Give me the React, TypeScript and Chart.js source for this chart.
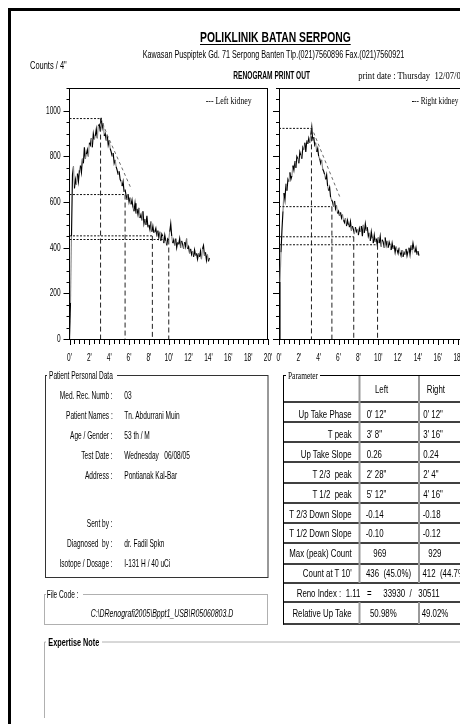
import React, { useEffect, useRef } from 'react';
import { Chart, registerables } from 'chart.js';

Chart.register(...registerables);

// ---------- DATA ----------
const SAMPLE_MIN = 0.1; // sampling step of the count series, minutes

const leftCounts = [
  0, 160, 450, 720, 756, 660, 700, 675, 725, 690,
  740, 760, 730, 790, 770, 840, 790, 810, 830, 800,
  860, 850, 880, 840, 900, 875, 890, 920, 880, 935,
  940, 910, 969, 925, 945, 890, 900, 870, 895, 850,
  870, 835, 820, 800, 815, 770, 785, 755, 740, 720,
  735, 700, 690, 670, 690, 645, 655, 630, 610, 635,
  600, 620, 590, 610, 575, 560, 595, 550, 570, 545,
  575, 530, 545, 520, 560, 505, 525, 500, 540, 490,
  500, 480, 515, 470, 495, 465, 470, 485, 450, 475,
  445, 470, 430, 460, 450, 420, 455, 430, 410, 440,
  436, 470, 505, 450, 420, 435, 410, 440, 400, 425,
  415, 440, 400, 430, 415, 395, 425, 405, 440, 395,
  405, 375, 395, 370, 385, 360, 390, 365, 375, 350,
  375, 360, 385, 350, 395, 410, 365, 380, 345, 370,
  340, 355,
];

const rightCounts = [
  0, 250, 380, 480, 560, 640, 610, 680, 650, 700,
  690, 730, 700, 715, 760, 740, 780, 750, 800, 790,
  770, 820, 805, 790, 840, 830, 860, 820, 870, 855,
  880, 860, 895, 929, 870, 885, 850, 860, 820, 835,
  800, 790, 770, 785, 745, 735, 720, 700, 720, 670,
  650, 665, 620, 610, 600, 580, 605, 570, 585, 550,
  560, 540, 555, 530, 545, 520, 510, 530, 495, 520,
  500, 490, 515, 475, 495, 480, 460, 490, 470, 480,
  455, 485, 470, 495, 450, 500, 465, 505, 475, 490,
  450, 465, 430, 470, 440, 420, 455, 425, 440, 412,
  445, 420, 450, 405, 435, 425, 400, 445, 410, 430,
  400, 425, 410, 390, 420, 395, 410, 380, 405, 390,
  375, 400, 380, 365, 390, 360, 380, 370, 395, 365,
  385, 400, 370, 410, 390, 420, 395, 380, 400, 370,
  385, 365,
];

// fitted down-slope (dashed grey)
const leftFitTime = [3.13, 3.8, 6.25];
const leftFitCounts = [969, 895, 655];
const rightFitTime = [3.27, 4.0, 6.2];
const rightFitCounts = [929, 850, 615];

// marker lines: T peak, T 2/3, T 1/2, T 10'
const leftMarkTime = [3.13, 5.6, 8.35, 10];
const leftMarkCounts = [966, 633, 452, 436];
const rightMarkTime = [3.27, 5.33, 7.53, 9.93];
const rightMarkCounts = [923, 580, 448, 413];

const X_MAX = 20;
const Y_MAX = 1100;
const X_LABEL_EVERY = 2;
const Y_LABEL_EVERY = 200;

const patientLabels = ['Med. Rec. Numb :', 'Patient Names :', 'Age / Gender :', 'Test Date :', 'Address :', 'Sent by :', 'Diagnosed  by :', 'Isotope / Dosage :'];
const patientValues = ['03', 'Tn. Abdurrani Muin', '53 th / M', 'Wednesday   06/08/05', 'Pontianak Kal-Bar', '', 'dr. Fadil Spkn', 'I-131 H / 40 uCi'];

const paramLabels = ['Up Take Phase', 'T peak', 'Up Take Slope', 'T 2/3  peak', 'T 1/2  peak', 'T 2/3 Down Slope', 'T 1/2 Down Slope', 'Max (peak) Count', "Count at T 10'"];
const paramLeft = ["0' 12\"", "3' 8\"", '0.26', "2' 28\"", "5' 12\"", '-0.14', '-0.10', '969', '436  (45.0%)'];
const paramRight = ["0' 12\"", "3' 16\"", '0.24', "2' 4\"", "4' 16\"", '-0.18', '-0.12', '929', '412  (44.7%)'];

// ---------- LAYOUT ----------
const SANS = "'Liberation Sans',Arial,'DejaVu Sans',sans-serif";
const SERIF = "'Liberation Serif','Times New Roman',serif";

const patientCY = [395, 415, 435, 455, 475, 523, 543, 563];
const paramCY = [414.5, 434.5, 454, 474.5, 494.5, 514.5, 533.5, 553.5, 573.5];
const paramLeftX0 = [366.7, 366.7, 366.7, 366.7, 366.7, 365.7, 365.7, 373.3, 366];
const paramRightX0 = [423.3, 423.3, 423.3, 423.3, 423.3, 422.7, 422.7, 428.3, 422.5];
const tableRowLines = [402, 422, 442, 462, 483, 503, 523, 543, 564, 583, 602];

let measureCtx: CanvasRenderingContext2D | null = null;
function textWidth(t: string, size: number, family: string, bold = false) {
  if (!measureCtx) measureCtx = document.createElement('canvas').getContext('2d');
  if (!measureCtx) return t.length * size * 0.5;
  measureCtx.font = `${bold ? 'bold ' : ''}${size}px ${family}`;
  return measureCtx.measureText(t).width;
}

type TP = { x: number; x2: number; cy: number; s?: number; b?: boolean; i?: boolean; f?: string; t: string };
// single text stretched to a measured span
const Txt = ({ x, x2, cy, s = 10.5, b, i, f = SANS, t }: TP) => (
  <text
    x={x}
    y={cy + s * 0.36}
    fontSize={s}
    fontWeight={b ? 'bold' : 'normal'}
    fontStyle={i ? 'italic' : 'normal'}
    fontFamily={f}
    textLength={x2 - x}
    lengthAdjust="spacingAndGlyphs"
    fill="#000"
    style={{ whiteSpace: 'pre' }}
  >
    {t}
  </text>
);

type SP = { x: number; cy: number; s: number; k: number; anchor?: 'start' | 'end'; b?: boolean; i?: boolean; f?: string; t: string };
// text with a uniform horizontal condensation factor k
const STxt = ({ x, cy, s, k, anchor = 'start', b, i, f = SANS, t }: SP) => (
  <text
    transform={`translate(${x} ${cy + s * 0.36}) scale(${k} 1)`}
    fontSize={s}
    fontWeight={b ? 'bold' : 'normal'}
    fontStyle={i ? 'italic' : 'normal'}
    fontFamily={f}
    textAnchor={anchor}
    fill="#000"
    style={{ whiteSpace: 'pre' }}
  >
    {t}
  </text>
);

const TICK_FONT = "'Liberation Sans',Arial,sans-serif";
const TICK_K = 0.62;

const framePlugin = {
  id: 'renoFrame',
  afterDraw(chart: any) {
    const { ctx, chartArea: a, scales } = chart;
    const xs = scales.x;
    const ys = scales.y;
    const showY = chart.options.plugins.renoFrame?.yLabels;
    ctx.save();
    ctx.strokeStyle = '#000';
    ctx.lineWidth = 1;
    ctx.beginPath();
    xs.ticks.forEach((t: any) => {
      const px = Math.round(xs.getPixelForValue(t.value)) + 0.5;
      ctx.moveTo(px, a.bottom);
      ctx.lineTo(px, a.bottom + (t.value % X_LABEL_EVERY === 0 ? 6 : 5));
    });
    ys.ticks.forEach((t: any) => {
      const py = Math.round(ys.getPixelForValue(t.value)) + 0.5;
      const len = t.value % Y_LABEL_EVERY === 0 ? 6 : 3;
      ctx.moveTo(a.left - len, py);
      ctx.lineTo(a.left, py);
    });
    ctx.moveTo(a.left, Math.round(a.top) + 0.5);
    ctx.lineTo(a.right, Math.round(a.top) + 0.5);
    ctx.moveTo(Math.round(a.right) - 0.5, a.top);
    ctx.lineTo(Math.round(a.right) - 0.5, a.bottom);
    ctx.stroke();

    // tick labels (condensed, like the printout)
    ctx.fillStyle = '#000';
    ctx.font = `10.5px ${TICK_FONT}`;
    ctx.textBaseline = 'middle';
    xs.ticks.forEach((t: any) => {
      if (t.value % X_LABEL_EVERY !== 0) return;
      ctx.save();
      ctx.translate(xs.getPixelForValue(t.value), a.bottom + 19);
      ctx.scale(TICK_K, 1);
      ctx.textAlign = 'center';
      ctx.fillText(`${t.value}'`, 0, 0);
      ctx.restore();
    });
    if (showY) {
      ys.ticks.forEach((t: any) => {
        if (t.value % Y_LABEL_EVERY !== 0) return;
        ctx.save();
        ctx.translate(a.left - 9, ys.getPixelForValue(t.value));
        ctx.scale(TICK_K, 1);
        ctx.textAlign = 'right';
        ctx.fillText(String(t.value), 0, 0);
        ctx.restore();
      });
    }
    ctx.restore();
  },
};

type RCProps = {
  counts: number[];
  fitT: number[];
  fitV: number[];
  markT: number[];
  markV: number[];
  yLabels: boolean;
  left: number;
  width: number;
  yWidth: number;
  padLeft: number;
  padRight: number;
};

function RenoChart({ counts, fitT, fitV, markT, markV, yLabels, left, width, yWidth, padLeft, padRight }: RCProps) {
  const ref = useRef<HTMLCanvasElement>(null);
  useEffect(() => {
    if (!ref.current) return;
    const hLines = markT.map((t, i) => ({
      data: [
        { x: 0, y: markV[i] },
        { x: t, y: markV[i] },
      ],
      borderColor: '#111',
      borderWidth: 1,
      borderDash: [2, 1.5],
      pointRadius: 0,
      fill: false,
    }));
    const vLines = markT.map((t, i) => ({
      data: [
        { x: t, y: markV[i] },
        { x: t, y: 0 },
      ],
      borderColor: '#222',
      borderWidth: 1,
      borderDash: [5, 3],
      pointRadius: 0,
      fill: false,
    }));
    const chart = new Chart(ref.current, {
      type: 'line',
      data: {
        datasets: [
          ...hLines,
          ...vLines,
          {
            data: fitT.map((t, i) => ({ x: t, y: fitV[i] })),
            borderColor: '#6a6a6a',
            borderDash: [3, 3],
            borderWidth: 1,
            pointRadius: 0,
            fill: false,
          },
          {
            data: counts.map((v, i) => ({ x: i * SAMPLE_MIN, y: v })),
            borderColor: '#000',
            borderWidth: 1.15,
            pointRadius: 0,
            fill: false,
            segment: { borderColor: (c: any) => (c.p0DataIndex % 3 === 1 ? '#8c8c8c' : '#000') },
          },
        ] as any,
      },
      options: {
        responsive: false,
        animation: false,
        events: [],
        layout: { padding: { left: padLeft, right: padRight, top: 8, bottom: 6 } },
        plugins: { legend: { display: false }, tooltip: { enabled: false }, renoFrame: { yLabels } },
        scales: {
          x: {
            type: 'linear',
            min: 0,
            max: X_MAX,
            grid: { display: false, drawTicks: false },
            border: { display: true, color: '#000', width: 1 },
            ticks: { stepSize: 0.5, autoSkip: false, display: false },
            afterFit: (s: any) => {
              s.height = 25;
              s.paddingLeft = 0;
              s.paddingRight = 0;
            },
          },
          y: {
            type: 'linear',
            min: 0,
            max: Y_MAX,
            grid: { display: false, drawTicks: false },
            border: { display: true, color: '#000', width: 1 },
            ticks: { stepSize: 50, autoSkip: false, display: false },
            afterFit: (s: any) => {
              s.width = yWidth;
              s.paddingTop = 0;
              s.paddingBottom = 0;
            },
          },
        },
      } as any,
      plugins: [framePlugin],
    });
    return () => chart.destroy();
  }, []);
  return (
    <canvas
      ref={ref}
      width={width}
      height={290}
      style={{ position: 'absolute', left, top: 80, width, height: 290 }}
    />
  );
}

export default function App() {
  const kT = 53.4 / textWidth('Up Take Phase', 11, SANS);
  const kP = 46.7 / textWidth('Patient Names :', 10.5, SANS);
  return (
    <div
      style={{
        position: 'fixed',
        left: 0,
        top: 0,
        width: 460,
        height: 724,
        overflow: 'hidden',
        background: '#fff',
      }}
    >
      <div
        style={{
          position: 'absolute',
          left: 8,
          top: 8,
          width: 600,
          height: 800,
          borderTop: '3px solid #000',
          borderLeft: '3px solid #000',
        }}
      />
      <RenoChart
        counts={leftCounts}
        fitT={leftFitTime}
        fitV={leftFitCounts}
        markT={leftMarkTime}
        markV={leftMarkCounts}
        yLabels={true}
        left={20}
        width={255}
        yWidth={30}
        padLeft={19.5}
        padRight={7}
      />
      <RenoChart
        counts={rightCounts}
        fitT={rightFitTime}
        fitV={rightFitCounts}
        markT={rightMarkTime}
        markV={rightMarkCounts}
        yLabels={false}
        left={250}
        width={240}
        yWidth={29}
        padLeft={0}
        padRight={12.5}
      />
      <svg
        width={460}
        height={724}
        style={{ position: 'absolute', left: 0, top: 0, pointerEvents: 'none' }}
      >
        {/* header */}
        <Txt x={200} x2={350.7} cy={36.2} s={15} b t="POLIKLINIK BATAN SERPONG" />
        <line x1={200} y1={44.5} x2={350.7} y2={44.5} stroke="#000" strokeWidth={1.2} />
        <Txt x={142.7} x2={404.3} cy={54} s={10} t="Kawasan Puspiptek Gd. 71 Serpong Banten Tlp.(021)7560896 Fax.(021)7560921" />
        <Txt x={30} x2={66.7} cy={65.7} s={10} t={'Counts / 4"'} />
        <Txt x={233.3} x2={310} cy={75} s={10} b t="RENOGRAM PRINT OUT" />
        <Txt x={358.3} x2={465} cy={75} s={10.5} f={SERIF} t="print date : Thursday  12/07/05" />
        <Txt x={205.7} x2={251.7} cy={100} s={10} f={SERIF} t="--- Left kidney" />
        <Txt x={411.7} x2={458.3} cy={100} s={10} f={SERIF} t="--- Right kidney" />

        {/* patient group box */}
        <rect x={45.5} y={375.5} width={222.5} height={202} fill="none" stroke="#333" strokeWidth={1} />
        <rect x={47} y={370} width={70} height={10} fill="#fff" />
        <STxt x={49} cy={375} s={10.5} k={kP} t="Patient Personal Data" />
        {patientLabels.map((l, i) => (
          <STxt key={'pl' + i} x={112.7} cy={patientCY[i]} s={10.5} k={kP} anchor="end" t={l} />
        ))}
        {patientValues.map((v, i) =>
          v ? <STxt key={'pv' + i} x={124.3} cy={patientCY[i]} s={10.5} k={kP} t={v} /> : null
        )}

        {/* file code */}
        <rect x={44.5} y={594.5} width={223} height={30} fill="none" stroke="#b0b0b0" strokeWidth={1} />
        <rect x={46} y={589} width={37} height={10} fill="#fff" />
        <STxt x={46.7} cy={594} s={10.5} k={kP} t="File Code :" />
        <Txt x={90.7} x2={233.3} cy={613.3} i t={'C:\\DRenografi2005\\Bppt1_USB\\R05060803.D'} />

        {/* expertise note */}
        <line x1={44.5} y1={642} x2={460} y2={642} stroke="#b0b0b0" strokeWidth={1} />
        <line x1={44.5} y1={642} x2={44.5} y2={718} stroke="#b0b0b0" strokeWidth={1} />
        <rect x={46} y={636} width={56} height={11} fill="#fff" />
        <Txt x={48.3} x2={99.3} cy={642} b t="Expertise Note" />

        {/* parameter table */}
        <line x1={283.5} y1={375.5} x2={460} y2={375.5} stroke="#000" strokeWidth={1} />
        <line x1={283.5} y1={375} x2={283.5} y2={624.5} stroke="#000" strokeWidth={1} />
        <line x1={283} y1={624} x2={460} y2={624} stroke="#000" strokeWidth={1.3} />
        {tableRowLines.map((y, i) => (
          <line key={'rl' + i} x1={283} y1={y} x2={460} y2={y} stroke="#000" strokeWidth={1.3} />
        ))}
        {[359.5, 419].map((x, i) => (
          <g key={'cl' + i}>
            <line x1={x} y1={376} x2={x} y2={583} stroke="#999" strokeWidth={2} />
            <line x1={x} y1={602} x2={x} y2={624} stroke="#999" strokeWidth={2} />
          </g>
        ))}
        <rect x={286} y={370} width={34} height={10} fill="#fff" />
        <Txt x={288} x2={318} cy={375} s={10.5} f={SERIF} t="Parameter" />
        <STxt x={375} cy={389} s={11} k={kT} t="Left" />
        <STxt x={426.7} cy={389} s={11} k={kT} t="Right" />
        {paramLabels.map((l, i) => (
          <STxt key={'ql' + i} x={351.7} cy={paramCY[i]} s={11} k={kT} anchor="end" t={l} />
        ))}
        {paramLeft.map((v, i) => (
          <STxt key={'qv' + i} x={paramLeftX0[i]} cy={paramCY[i]} s={11} k={kT} t={v} />
        ))}
        {paramRight.map((v, i) => (
          <STxt key={'qr' + i} x={paramRightX0[i]} cy={paramCY[i]} s={11} k={kT} t={v} />
        ))}
        <STxt x={296.7} cy={593} s={11} k={kT} t="Reno Index :  1.11   =" />
        <STxt x={383.3} cy={593} s={11} k={kT} t="33930  /" />
        <STxt x={418.3} cy={593} s={11} k={kT} t="30511" />
        <STxt x={351.7} cy={613.3} s={11} k={kT} anchor="end" t="Relative Up Take" />
        <STxt x={370} cy={613.3} s={11} k={kT} t="50.98%" />
        <STxt x={421.7} cy={613.3} s={11} k={kT} t="49.02%" />
      </svg>
    </div>
  );
}
